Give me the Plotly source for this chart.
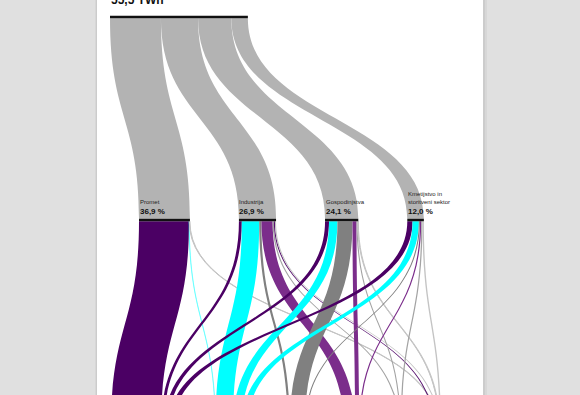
import plotly.graph_objects as go

# ---------------- data ----------------
total_twh = 55.5
sectors = ["Promet", "Industrija", "Gospodinjstva", "Kmetijstvo in<br>storitveni sektor"]
sector_share = [36.9, 26.9, 24.1, 12.0]          # % of final energy use
share_labels = ["36,9 %", "26,9 %", "24,1 %", "12,0 %"]

sources = ["Naftni proizvodi", "Električna energija", "Obnovljivi viri",
           "Zemeljski plin", "Toplota", "Premog", "Drugo"]
source_colors = ["#4b0064", "#00ffff", "#808080", "#7b2d8b", "#a3a3a3", "#56106e", "#c4c4c4"]

# share (% of total) of each source inside each sector
promet_mix      = [36.25, 0.15, 0.0, 0.0, 0.0, 0.0, 0.5]
industrija_mix  = [2.1, 12.6, 1.6, 8.1, 0.9, 0.8, 0.8]
gospod_mix      = [2.9, 6.1, 10.9, 2.9, 0.8, 0.0, 0.5]
kmet_mix        = [3.8, 4.6, 0.8, 0.9, 0.9, 0.0, 1.0]
sector_mix = [promet_mix, industrija_mix, gospod_mix, kmet_mix]

# ---------------- layout parameters ----------------
W, H = 580, 395
px_per_pct = 1.38
row_y = [17, 220, 428]                 # screen y of node rows
row_left = [110, 139, 111]             # left edge of first node in each row
mid_gap = 49
bot_gaps = [42, 40, 38, 38, 31, 3]
thick = 2.5
pad = 8

def pct_to_twh(p):
    return p / 100.0 * total_twh

src_tot = [sum(m[j] for m in sector_mix) for j in range(len(sources))]
grand = sum(sector_share)

def centres(vals, left, gaps):
    out = []
    x = left
    for i, v in enumerate(vals):
        w = v * px_per_pct
        out.append(x + w / 2)
        x += w + (gaps[i] if i < len(gaps) else 0)
    return out

top_c = centres([grand], row_left[0], [])
mid_c = centres(sector_share, row_left[1], [mid_gap] * 3)
bot_c = centres(src_tot, row_left[2], bot_gaps)

labels = ["Skupaj"] + sectors + sources
node_cx = top_c + mid_c + bot_c
node_cy = [row_y[0]] + [row_y[1]] * 4 + [row_y[2]] * len(sources)

# sankey scale: (domain_width - (n-1)*pad) / total = px per unit
n_bottom = len(sources)
dom_w = (grand * px_per_pct + (n_bottom - 1) * pad) / W
# plotly (vertical sankey): node.x -> along flow (scaled by domain width),
# node.y -> across flow (scaled by domain height)
nx = [cy / (W * dom_w) for cy in node_cy]
ny = [cx / H for cx in node_cx]

def faint(hex_col, a):
    h = hex_col.lstrip("#")
    r, g, b = int(h[0:2], 16), int(h[2:4], 16), int(h[4:6], 16)
    return "rgba(%d,%d,%d,%.2f)" % (r, g, b, a)

src, tgt, val, col = [], [], [], []
for i, s in enumerate(sector_share):
    src.append(0); tgt.append(1 + i); val.append(pct_to_twh(s)); col.append("#b3b3b3")
for i, mix in enumerate(sector_mix):
    for j, v in enumerate(mix):
        if v > 0:
            src.append(1 + i); tgt.append(5 + j); val.append(pct_to_twh(v))
            col.append(faint(source_colors[j], 0.35) if v < 0.3 else source_colors[j])

node_colors = ["#111111"] * 5 + source_colors

fig = go.Figure(go.Sankey(
    orientation="v",
    arrangement="fixed",
    domain=dict(x=[0, dom_w], y=[0, 1]),
    node=dict(label=[""] * len(labels), x=nx, y=ny, pad=pad, thickness=thick,
              color=node_colors, line=dict(width=0)),
    link=dict(source=src, target=tgt, value=val, color=col),
    textfont=dict(size=1, color="rgba(0,0,0,0)"),
))

shapes = [
    dict(type="rect", xref="paper", yref="paper", x0=95 / W, x1=487 / W, y0=0, y1=1,
         fillcolor="rgba(0,0,0,0.04)", line=dict(width=0), layer="below"),
    dict(type="rect", xref="paper", yref="paper", x0=96 / W, x1=485 / W, y0=0, y1=1,
         fillcolor="rgba(0,0,0,0.05)", line=dict(width=0), layer="below"),
    dict(type="rect", xref="paper", yref="paper", x0=97 / W, x1=483 / W, y0=0, y1=1,
         fillcolor="white", line=dict(width=0), layer="below"),
]

ann = [dict(text="<b>55,5 TWh</b>", x=(row_left[0] - 1) / W, y=1 - 8.5 / H, xref="paper", yref="paper",
            xanchor="left", yanchor="bottom", showarrow=False,
            font=dict(family="Liberation Sans, Arial", size=12, color="#111"))]
for i, name in enumerate(sectors):
    left = mid_c[i] - sector_share[i] * px_per_pct / 2 - 1.5
    ann.append(dict(text=name, x=left / W, y=1 - 207 / H, xref="paper", yref="paper",
                    xanchor="left", yanchor="bottom", align="left", showarrow=False,
                    font=dict(family="Liberation Sans, Arial", size=6, color="#222")))
    ann.append(dict(text="<b>" + share_labels[i] + "</b>", x=left / W, y=1 - 217.5 / H,
                    xref="paper", yref="paper", xanchor="left", yanchor="bottom",
                    showarrow=False,
                    font=dict(family="Liberation Sans, Arial", size=8, color="#111")))

fig.update_layout(width=W, height=H, margin=dict(l=0, r=0, t=0, b=0),
                  paper_bgcolor="#e0e0e0", plot_bgcolor="#e0e0e0",
                  shapes=shapes, annotations=ann, showlegend=False)
fig.write_html("out.html", config={"displayModeBar": False},
               post_script="document.body.style.margin='0';document.body.style.overflow='hidden';")
